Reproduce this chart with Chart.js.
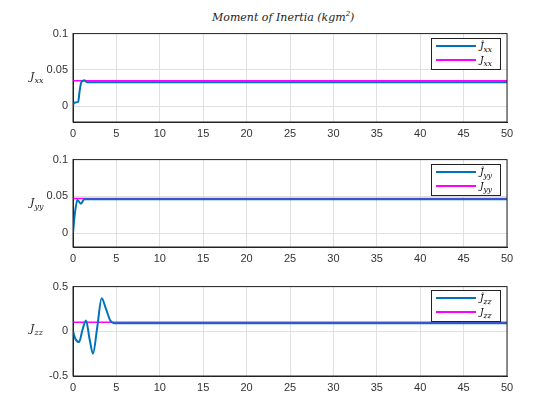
<!DOCTYPE html>
<html><head><script src="https://cdn.jsdelivr.net/npm/chart.js@4"></script>
<style>
body{margin:0;width:560px;height:420px;background:#fff;position:relative;font-family:"Liberation Sans",Arial,sans-serif;overflow:hidden}
.c{position:absolute;left:0;width:560px}
.lab{position:absolute;font-family:"DejaVu Serif",serif;font-style:italic;font-size:11px;color:#222}
.leg{position:absolute;left:431px;width:68px;height:30px;border:1px solid #222;background:#fff;font-family:"DejaVu Serif",serif;font-style:italic;font-size:9px}
.leg div{position:relative;height:14px;line-height:14px}
.leg span.l{position:absolute;left:4px;top:6px;width:40px;height:2px}
.leg span.t{position:absolute;left:48px}
</style></head><body>
<div class="lab" style="left:212px;top:10px;font-size:11px">Moment of Inertia (kgm<sup style="font-size:7px">2</sup>)</div>
<div class="c" style="top:22px;height:128px"><canvas id="c1"></canvas></div>
<div class="c" style="top:148px;height:127px"><canvas id="c2"></canvas></div>
<div class="c" style="top:275px;height:129px"><canvas id="c3"></canvas></div>
<div class="lab" style="left:30px;top:70px">J<sub style="font-size:8px">xx</sub></div>
<div class="lab" style="left:30px;top:196px">J<sub style="font-size:8px">yy</sub></div>
<div class="lab" style="left:30px;top:322px">J<sub style="font-size:8px">zz</sub></div>
<div class="leg" style="top:38px"><div><span class="l" style="background:#0072BD"></span><span class="t">Ĵ<sub>xx</sub></span></div><div><span class="l" style="background:#FF00FF"></span><span class="t">J<sub>xx</sub></span></div></div>
<div class="leg" style="top:164px"><div><span class="l" style="background:#0072BD"></span><span class="t">Ĵ<sub>yy</sub></span></div><div><span class="l" style="background:#FF00FF"></span><span class="t">J<sub>yy</sub></span></div></div>
<div class="leg" style="top:290px"><div><span class="l" style="background:#0072BD"></span><span class="t">Ĵ<sub>zz</sub></span></div><div><span class="l" style="background:#FF00FF"></span><span class="t">J<sub>zz</sub></span></div></div>
<script>
const xTicks=[0,5,10,15,20,25,30,35,40,45,50];
const estXX_t=[0,0.1,0.6,0.75,0.95,1.3,1.6,2,3,50];
const estXX_v=[0,0.005,0.006,0.02,0.033,0.036,0.033,0.033,0.033,0.033];
const trueXX=0.035;
const estYY_t=[0,0.2,0.5,0.9,1.3,1.8,3,50];
const estYY_v=[0,0.025,0.045,0.04,0.046,0.046,0.046,0.046];
const trueYY=0.047;
const estZZ_t=[0,0.25,0.7,1.1,1.5,1.9,2.3,2.8,3.3,3.8,4.3,4.8,6,50];
const estZZ_v=[0,-0.08,-0.12,0.02,0.12,-0.08,-0.25,0.05,0.37,0.25,0.12,0.09,0.09,0.09];
const trueZZ=0.1;
const yTicks1=[0,0.05,0.1],yTicks2=[0,0.05,0.1],yTicks3=[-0.5,0,0.5];
function mk(id,ts,vs,tr,ymin,ymax,yt){
 new Chart(document.getElementById(id),{type:'line',
 data:{datasets:[
  {data:ts.map((t,i)=>({x:t,y:vs[i]})),borderColor:'#0072BD',borderWidth:2,pointRadius:0,tension:0.3,cubicInterpolationMode:'monotone'},
  {data:[{x:0,y:tr},{x:50,y:tr}],borderColor:'#FF00FF',borderWidth:1.5,pointRadius:0}]},
 options:{animation:false,responsive:true,maintainAspectRatio:false,
  layout:{padding:{top:10,right:53,left:0,bottom:0}},
  plugins:{legend:{display:false},tooltip:{enabled:false}},
  scales:{
   x:{type:'linear',min:0,max:50,afterBuildTicks:s=>{s.ticks=xTicks.map(v=>({value:v}))},
      afterFit:s=>{s.height=28},
      grid:{color:'#e0e0e0',drawTicks:false},border:{color:'#222'},
      ticks:{padding:5,color:'#333',font:{size:11,family:'Liberation Sans'}}},
   y:{min:ymin,max:ymax,afterBuildTicks:s=>{s.ticks=yt.map(v=>({value:v}))},
      afterFit:s=>{s.width=73},
      grid:{color:'#e0e0e0',drawTicks:false},border:{color:'#222'},
      ticks:{padding:5,color:'#333',font:{size:11,family:'Liberation Sans'},callback:v=>String(v)}}
  }},
 plugins:[{id:'box',afterDraw(c){const a=c.chartArea,x=c.ctx;x.save();x.strokeStyle='#222';x.lineWidth=1;x.strokeRect(a.left,a.top,a.right-a.left,a.bottom-a.top);x.restore();}}]
 });
}
mk('c1',estXX_t,estXX_v,trueXX,-0.0216,0.1,yTicks1);
mk('c2',estYY_t,estYY_v,trueYY,-0.019,0.1,yTicks2);
mk('c3',estZZ_t,estZZ_v,trueZZ,-0.5,0.5,yTicks3);
</script></body></html>
